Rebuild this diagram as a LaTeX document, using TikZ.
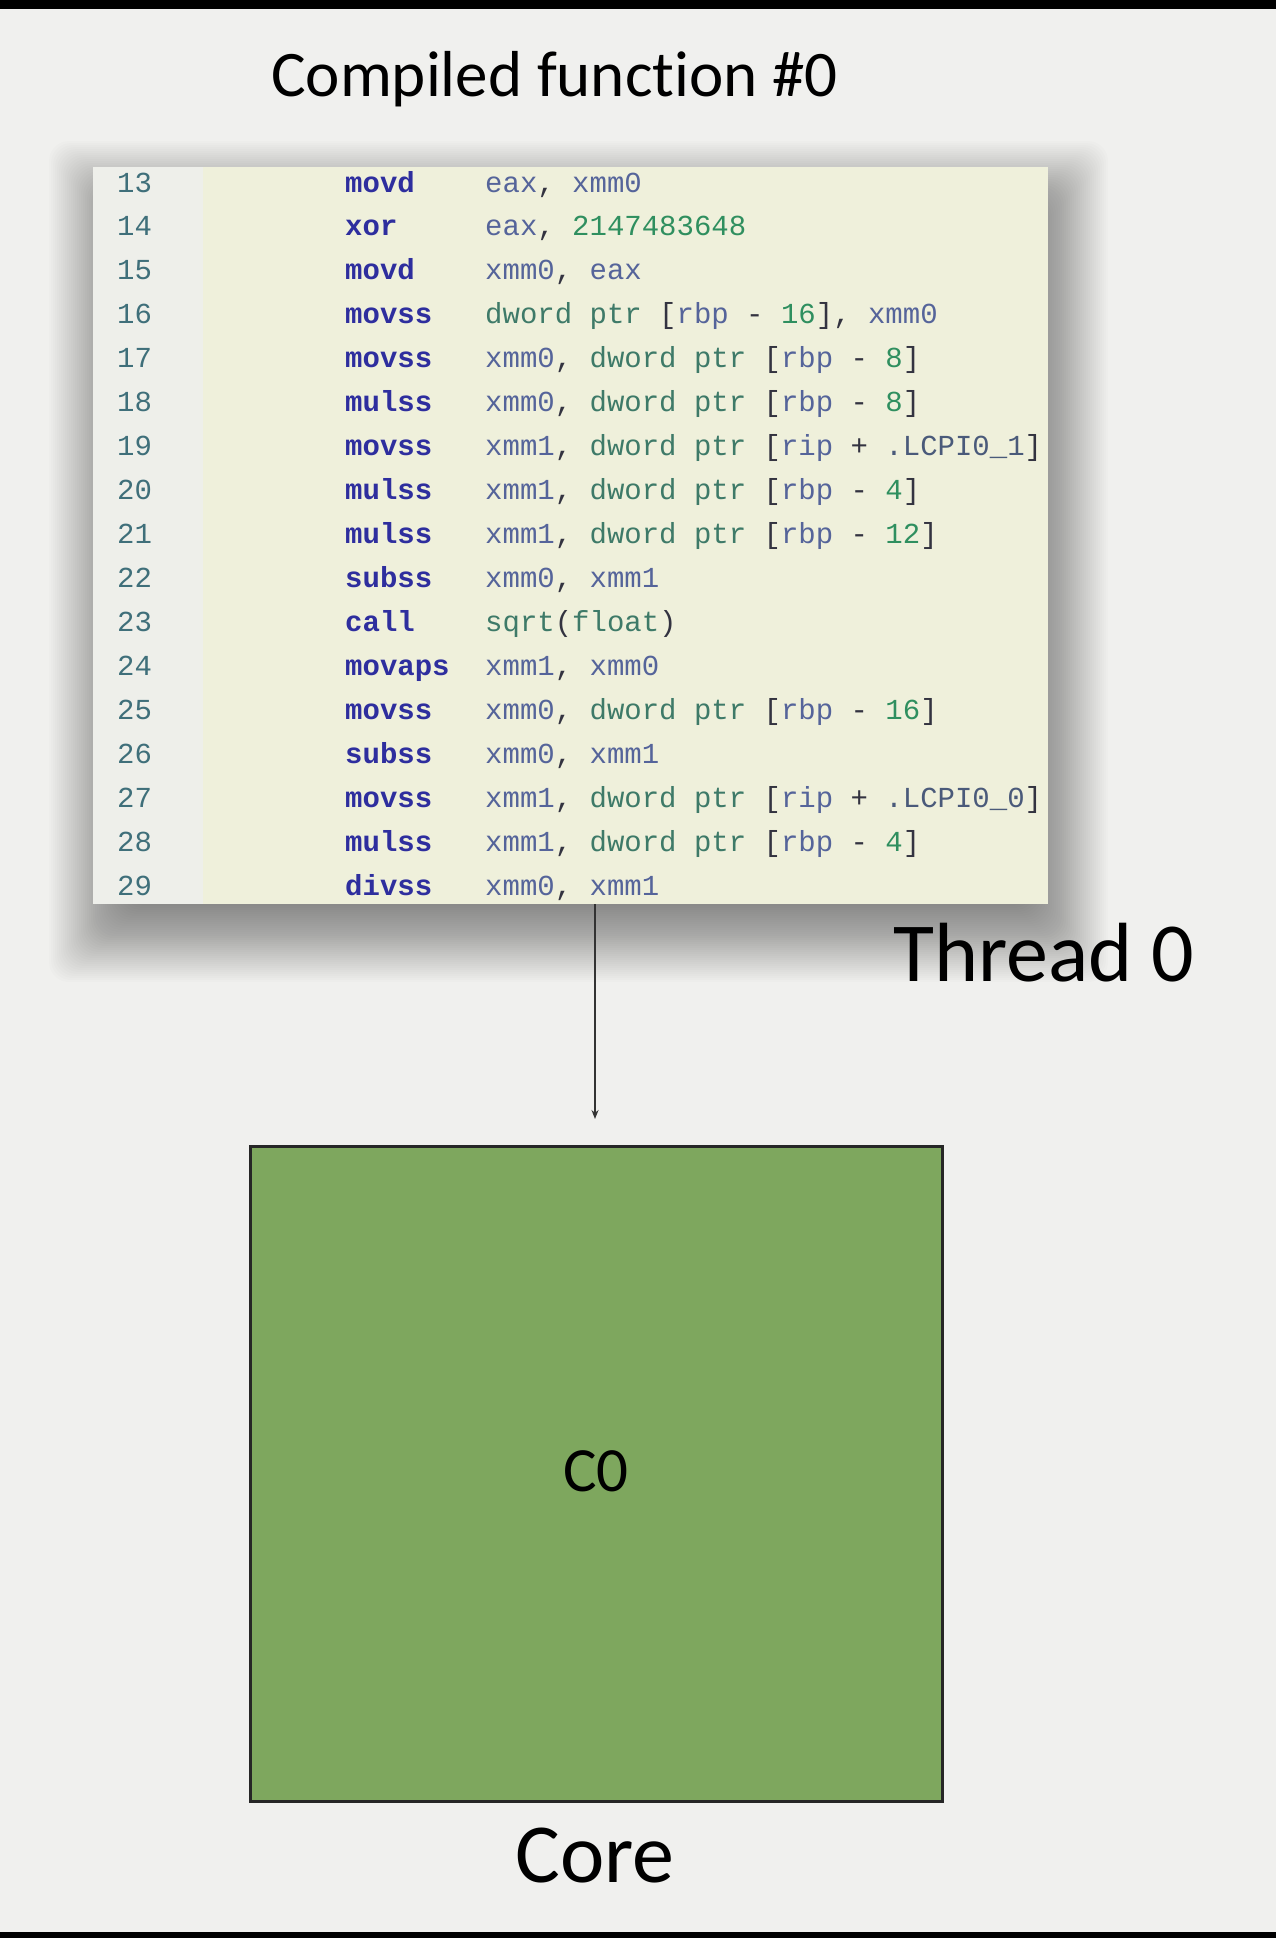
\documentclass[tikz,border=0pt]{standalone}
\usepackage{fontspec}
\setmainfont{Carlito}[Ligatures={NoCommon}]
\newfontfamily\codefont{Liberation Mono}
\usetikzlibrary{arrows.meta}
\definecolor{bgc}{HTML}{F0F0EE}
\definecolor{gutterc}{HTML}{EEEFEA}
\definecolor{codebg}{HTML}{EFF0DB}
\definecolor{mnemc}{HTML}{2E2E9E}
\definecolor{regcol}{HTML}{55649A}
\definecolor{kwcol}{HTML}{3E7A68}
\definecolor{numcol}{HTML}{2F8F5F}
\definecolor{puncol}{HTML}{333340}
\definecolor{lblcol}{HTML}{4A5A7A}
\definecolor{lncol}{HTML}{3F6F7A}
\definecolor{coregreen}{HTML}{7EA75E}
\newcommand{\regc}[1]{\textcolor{regcol}{#1}}
\newcommand{\kwc}[1]{\textcolor{kwcol}{#1}}
\newcommand{\numc}[1]{\textcolor{numcol}{#1}}
\newcommand{\punc}[1]{\textcolor{puncol}{#1}}
\newcommand{\lblc}[1]{\textcolor{lblcol}{#1}}
\frenchspacing
\tikzset{
  lineno/.style={anchor=base west, inner sep=0pt, text=lncol, font=\codefont\fontsize{29}{35}\selectfont},
  mnem/.style={anchor=base west, inner sep=0pt, text=mnemc, font=\codefont\bfseries\fontsize{29}{35}\selectfont},
  opnd/.style={anchor=base west, inner sep=0pt, text=regcol, font=\codefont\fontsize{29}{35}\selectfont},
  biglabel/.style={inner sep=0pt, text=black},
  corebox/.style={draw=black!85, line width=3pt, fill=coregreen, minimum width=692pt, minimum height=655pt, inner sep=0pt},
  codepanel/.style={fill=codebg, minimum width=955pt, minimum height=737pt, inner sep=0pt},
  flow/.style={draw=black!80, line width=1.5pt, -{Stealth[length=9pt,width=7pt]}}
}
\begin{document}
\begin{tikzpicture}[x=1pt,y=-1pt]
\useasboundingbox (0,0) rectangle (1276,1938);
\fill[bgc] (0,0) rectangle (1276,1938);
% soft shadow of code panel (panel shifted by (8,26), blurred)
\foreach \e in {-30,-28,...,52}{
  \fill[black, opacity=0.0135, rounded corners=20pt] (101-\e,193-\e) rectangle (1056+\e,930+\e);
}
% code panel
\node[codepanel] (code) at (570.5,535.5) {};
\fill[gutterc] (code.north west) rectangle (203,904);
% code lines
\node[lineno] (n13) at (117,192.00) {13};
\node[lineno] (n14) at (117,235.94) {14};
\node[lineno] (n15) at (117,279.88) {15};
\node[lineno] (n16) at (117,323.81) {16};
\node[lineno] (n17) at (117,367.75) {17};
\node[lineno] (n18) at (117,411.69) {18};
\node[lineno] (n19) at (117,455.63) {19};
\node[lineno] (n20) at (117,499.56) {20};
\node[lineno] (n21) at (117,543.50) {21};
\node[lineno] (n22) at (117,587.44) {22};
\node[lineno] (n23) at (117,631.38) {23};
\node[lineno] (n24) at (117,675.31) {24};
\node[lineno] (n25) at (117,719.25) {25};
\node[lineno] (n26) at (117,763.19) {26};
\node[lineno] (n27) at (117,807.13) {27};
\node[lineno] (n28) at (117,851.06) {28};
\node[lineno] (n29) at (117,895.00) {29};
\node[mnem] (m13) at (345,192.00) {movd};
\node[mnem] (m14) at (345,235.94) {xor};
\node[mnem] (m15) at (345,279.88) {movd};
\node[mnem] (m16) at (345,323.81) {movss};
\node[mnem] (m17) at (345,367.75) {movss};
\node[mnem] (m18) at (345,411.69) {mulss};
\node[mnem] (m19) at (345,455.63) {movss};
\node[mnem] (m20) at (345,499.56) {mulss};
\node[mnem] (m21) at (345,543.50) {mulss};
\node[mnem] (m22) at (345,587.44) {subss};
\node[mnem] (m23) at (345,631.38) {call};
\node[mnem] (m24) at (345,675.31) {movaps};
\node[mnem] (m25) at (345,719.25) {movss};
\node[mnem] (m26) at (345,763.19) {subss};
\node[mnem] (m27) at (345,807.13) {movss};
\node[mnem] (m28) at (345,851.06) {mulss};
\node[mnem] (m29) at (345,895.00) {divss};
\node[opnd] (o13) at (485,192.00) {eax\punc{,} xmm0};
\node[opnd] (o14) at (485,235.94) {eax\punc{,} \numc{2147483648}};
\node[opnd] (o15) at (485,279.88) {xmm0\punc{,} eax};
\node[opnd] (o16) at (485,323.81) {\kwc{dword ptr} \punc{[}rbp \punc{-} \numc{16}\punc{],} xmm0};
\node[opnd] (o17) at (485,367.75) {xmm0\punc{,} \kwc{dword ptr} \punc{[}rbp \punc{-} \numc{8}\punc{]}};
\node[opnd] (o18) at (485,411.69) {xmm0\punc{,} \kwc{dword ptr} \punc{[}rbp \punc{-} \numc{8}\punc{]}};
\node[opnd] (o19) at (485,455.63) {xmm1\punc{,} \kwc{dword ptr} \punc{[}rip \punc{+} \lblc{.LCPI0\_1}\punc{]}};
\node[opnd] (o20) at (485,499.56) {xmm1\punc{,} \kwc{dword ptr} \punc{[}rbp \punc{-} \numc{4}\punc{]}};
\node[opnd] (o21) at (485,543.50) {xmm1\punc{,} \kwc{dword ptr} \punc{[}rbp \punc{-} \numc{12}\punc{]}};
\node[opnd] (o22) at (485,587.44) {xmm0\punc{,} xmm1};
\node[opnd] (o23) at (485,631.38) {\kwc{sqrt}\punc{(}\kwc{float}\punc{)}};
\node[opnd] (o24) at (485,675.31) {xmm1\punc{,} xmm0};
\node[opnd] (o25) at (485,719.25) {xmm0\punc{,} \kwc{dword ptr} \punc{[}rbp \punc{-} \numc{16}\punc{]}};
\node[opnd] (o26) at (485,763.19) {xmm0\punc{,} xmm1};
\node[opnd] (o27) at (485,807.13) {xmm1\punc{,} \kwc{dword ptr} \punc{[}rip \punc{+} \lblc{.LCPI0\_0}\punc{]}};
\node[opnd] (o28) at (485,851.06) {xmm1\punc{,} \kwc{dword ptr} \punc{[}rbp \punc{-} \numc{4}\punc{]}};
\node[opnd] (o29) at (485,895.00) {xmm0\punc{,} xmm1};
% title and labels
\node[biglabel, anchor=base, font=\fontsize{65}{78}\selectfont] (title) at (554.5,96) {Compiled function \#0};
\node[biglabel, anchor=base west, font=\fontsize{84}{100}\selectfont] (thread) at (893,981) {Thread 0};
% core
\node[corebox] (core) at (596,1473.5) {};
\node[biglabel, anchor=base, font=\fontsize{63}{76}\selectfont] (c0) at (596,1491) {C0};
\node[biglabel, anchor=base, font=\fontsize{84}{100}\selectfont] (corelbl) at (595,1882) {Core};
% connector
\coordinate (tip) at (595,1119);
\draw[flow] (code.south -| tip) -- (tip);
% black bars
\fill[black] (0,0) rectangle (1276,9);
\fill[black] (0,1932) rectangle (1276,1938);
\end{tikzpicture}
\end{document}
